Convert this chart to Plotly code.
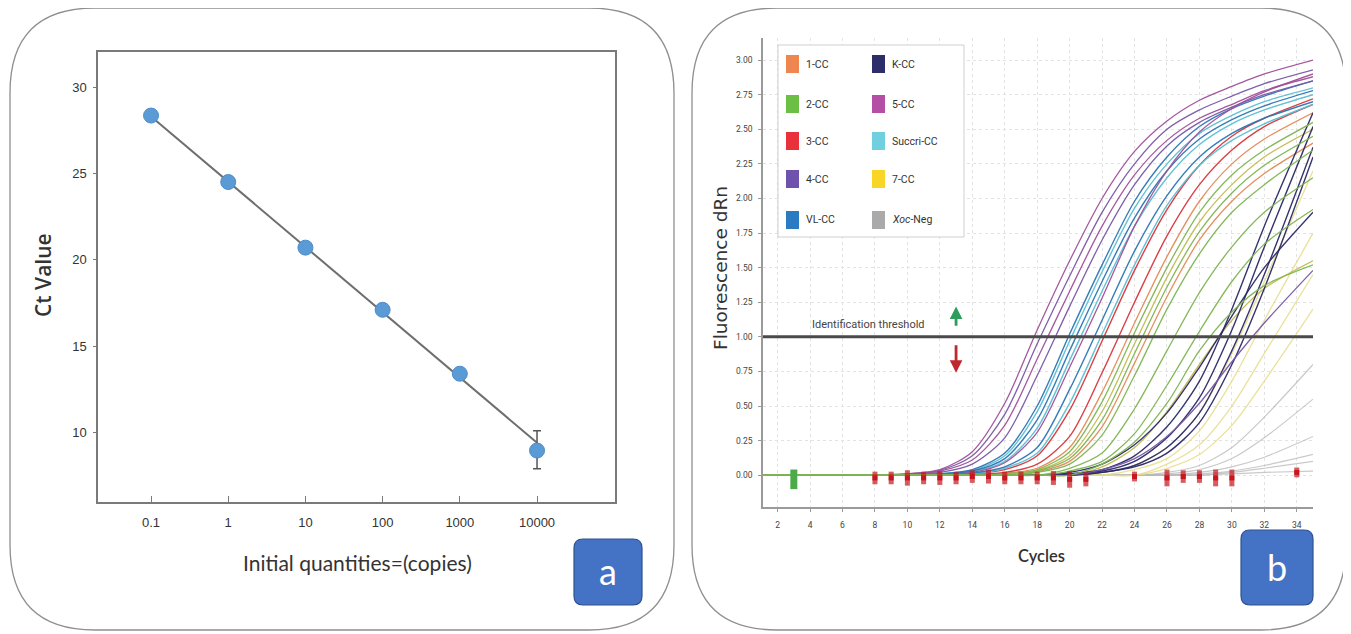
import plotly.graph_objects as go

# page body has an 8px margin: lay out in reference pixel coordinates, shifted by OFF
OFF = 8
FW, FH = 1351 - OFF, 634 - OFF

# ---------------- Panel a data ----------------
quantities = [0.1, 1, 10, 100, 1000, 10000]
quantity_labels = ["0.1", "1", "10", "100", "1000", "10000"]
ct_values = [28.35, 24.5, 20.7, 17.1, 13.4, 8.95]
ct_err_plus = [0, 0, 0, 0, 0, 1.15]
ct_err_minus = [0, 0, 0, 0, 0, 1.05]
fit_x = [0.1, 10000]
fit_y = [28.3, 9.4]
ct_ticks = [10, 15, 20, 25, 30]

# ---------------- Panel b data ----------------
cycles = [1, 6, 10, 12, 14, 16, 18, 20, 22, 24, 26, 28, 30, 32, 35]

curves_5cc = [
    [0, 0, 0.01, 0.04, 0.17, 0.52, 1.05, 1.55, 2.0, 2.34, 2.56, 2.71, 2.81, 2.9, 3.0],
    [0, 0, 0.005, 0.03, 0.11, 0.36, 0.84, 1.33, 1.8, 2.17, 2.42, 2.58, 2.68, 2.78, 2.88],
    [0, 0, 0, 0.005, 0.02, 0.09, 0.31, 0.78, 1.28, 1.8, 2.2, 2.48, 2.65, 2.77, 2.9],
]
curves_4cc = [
    [0, 0, 0.01, 0.035, 0.14, 0.44, 0.95, 1.44, 1.9, 2.25, 2.5, 2.64, 2.74, 2.83, 2.93],
    [0, 0, 0.005, 0.02, 0.08, 0.27, 0.72, 1.22, 1.7, 2.1, 2.38, 2.55, 2.66, 2.75, 2.85],
    [0, 0, 0, 0, 0, 0, 0, 0, 0.04, 0.12, 0.28, 0.52, 0.82, 1.1, 1.48],
]
curves_vlcc = [
    [0, 0, 0, 0.01, 0.04, 0.16, 0.5, 1.02, 1.52, 1.98, 2.3, 2.52, 2.65, 2.74, 2.85],
    [0, 0, 0, 0.008, 0.03, 0.12, 0.4, 0.9, 1.4, 1.86, 2.2, 2.43, 2.57, 2.67, 2.78],
    [0, 0, 0, 0, 0.015, 0.06, 0.2, 0.62, 1.12, 1.62, 2.02, 2.3, 2.47, 2.58, 2.7],
]
curves_succri = [
    [0, 0, 0, 0.01, 0.035, 0.14, 0.46, 0.97, 1.47, 1.93, 2.25, 2.47, 2.6, 2.7, 2.8],
    [0, 0, 0, 0.005, 0.025, 0.1, 0.34, 0.83, 1.33, 1.8, 2.15, 2.39, 2.54, 2.64, 2.75],
    [0, 0, 0, 0, 0.01, 0.05, 0.16, 0.52, 1.02, 1.52, 1.95, 2.24, 2.42, 2.54, 2.68],
]
curves_3cc = [
    [0, 0, 0, 0, 0.01, 0.04, 0.14, 0.47, 0.97, 1.48, 1.92, 2.24, 2.45, 2.58, 2.72],
    [0, 0, 0, 0, 0.005, 0.02, 0.08, 0.28, 0.74, 1.25, 1.73, 2.1, 2.35, 2.52, 2.68],
]
curves_1cc = [
    [0, 0, 0, 0, 0, 0.015, 0.05, 0.2, 0.6, 1.1, 1.58, 1.98, 2.25, 2.43, 2.62],
    [0, 0, 0, 0, 0, 0, 0.025, 0.1, 0.35, 0.81, 1.29, 1.7, 1.98, 2.18, 2.4],
]
curves_2cc = [
    [0, 0, 0, 0, 0, 0.01, 0.04, 0.17, 0.53, 1.03, 1.5, 1.9, 2.17, 2.35, 2.55],
    [0, 0, 0, 0, 0, 0, 0.03, 0.12, 0.4, 0.88, 1.36, 1.76, 2.04, 2.24, 2.45],
    [0, 0, 0, 0, 0, 0, 0.02, 0.08, 0.29, 0.72, 1.2, 1.6, 1.9, 2.1, 2.35],
    [0, 0, 0, 0, 0, 0, 0, 0.05, 0.16, 0.48, 0.9, 1.32, 1.65, 1.9, 2.15],
    [0, 0, 0, 0, 0, 0, 0, 0.03, 0.1, 0.3, 0.65, 1.04, 1.4, 1.67, 1.92],
    [0, 0, 0, 0, 0, 0, 0, 0, 0.08, 0.24, 0.52, 0.9, 1.18, 1.37, 1.52],
]
curves_7cc = [
    [0, 0, 0, 0, 0, 0.01, 0.035, 0.14, 0.46, 0.95, 1.43, 1.83, 2.1, 2.3, 2.5],
    [0, 0, 0, 0, 0, 0, 0, 0, 0.06, 0.2, 0.46, 0.8, 1.12, 1.35, 1.55],
]
curves_7cc_faint = [
    [0, 0, 0, 0, 0, 0, 0, 0, 0.02, 0.07, 0.2, 0.45, 0.88, 1.4, 2.2],
    [0, 0, 0, 0, 0, 0, 0, 0, 0, 0.04, 0.12, 0.32, 0.68, 1.12, 1.75],
    [0, 0, 0, 0, 0, 0, 0, 0, 0, 0, 0.08, 0.22, 0.5, 0.88, 1.45],
    [0, 0, 0, 0, 0, 0, 0, 0, 0, 0, 0.05, 0.15, 0.36, 0.68, 1.2],
]
curves_kcc = [
    [0, 0, 0, 0, 0, 0, 0, 0.01, 0.04, 0.14, 0.35, 0.68, 1.2, 1.8, 2.62],
    [0, 0, 0, 0, 0, 0, 0, 0.01, 0.03, 0.1, 0.27, 0.56, 1.05, 1.65, 2.52],
    [0, 0, 0, 0, 0, 0, 0, 0, 0.02, 0.07, 0.2, 0.45, 0.9, 1.45, 2.37],
    [0, 0, 0, 0, 0, 0, 0, 0, 0.02, 0.06, 0.16, 0.38, 0.8, 1.35, 2.3],
    [0, 0, 0, 0, 0, 0, 0, 0.02, 0.08, 0.22, 0.45, 0.78, 1.15, 1.5, 1.9],
]
curves_xoc = [
    [0, 0, 0, 0, 0, 0, 0, 0, 0, 0, 0.02, 0.07, 0.2, 0.42, 0.8],
    [0, 0, 0, 0, 0, 0, 0, 0, 0, 0, 0.01, 0.04, 0.12, 0.27, 0.55],
    [0, 0, 0, 0, 0, 0, 0, 0, 0, 0, 0, 0.02, 0.06, 0.13, 0.28],
    [0, 0, 0, 0, 0, 0, 0, 0, 0, 0, 0, 0.01, 0.03, 0.07, 0.15],
    [0, 0, 0, 0, 0, 0, 0, 0, 0, 0, 0, 0, 0.02, 0.05, 0.1],
    [0, 0, 0, 0, 0, 0, 0, 0, 0, 0, 0, 0, 0.01, 0.02, 0.03],
]

ct_mark_cycles = [8, 9, 10, 11, 12, 13, 14, 15, 16, 17, 18, 19, 20, 21, 24, 26, 27, 28, 29, 30, 34]
ct_mark_level = [-0.02, -0.02, -0.02, -0.02, -0.02, -0.02, -0.01, -0.01, -0.02, -0.02, -0.02, -0.02,
                 -0.03, -0.03, -0.01, -0.02, -0.01, -0.01, -0.02, -0.02, 0.02]
start_mark_cycle = [3]
start_mark_level = [-0.03]

threshold_value = 1.0
fluor_ticks = [0, 0.25, 0.5, 0.75, 1.0, 1.25, 1.5, 1.75, 2.0, 2.25, 2.5, 2.75, 3.0]
cycle_ticks = list(range(2, 35, 2))

legend_names = ["1-CC", "2-CC", "3-CC", "4-CC", "VL-CC", "K-CC", "5-CC", "Succri-CC", "7-CC", "<i>Xoc</i>-Neg"]

# ---------------- Styles ----------------
legend_colors = ["#ef8650", "#6cbf45", "#e8313a", "#6f52ac", "#2b7bc2",
                 "#2e2d6c", "#b54fa6", "#70d0e0", "#f8d527", "#aaaaaa"]

series_styles = [
    (curves_xoc, "#b8b8b8", 1.2, 0.75),
    (curves_7cc_faint, "#e7dc8a", 1.3, 0.85),
    (curves_7cc, "#c2bb52", 1.3, 0.95),
    (curves_1cc, "#e48a55", 1.3, 0.95),
    (curves_3cc, "#d9363c", 1.4, 0.95),
    (curves_succri, "#5bbfd3", 1.4, 0.95),
    (curves_vlcc, "#2c76b6", 1.4, 0.95),
    (curves_kcc, "#2b2a68", 1.4, 0.95),
    (curves_4cc, "#7858a6", 1.3, 0.95),
    (curves_5cc, "#a1509a", 1.3, 0.95),
    (curves_2cc, "#7fb552", 1.3, 0.95),
]

FONT_TXT = "Lato"


def px(x):
    return (x - OFF) / FW


def py(y):
    return 1 - (y - OFF) / FH


def rr_path(x0, y0, x1, y1, r):
    def P(x, y):
        return f"{px(x):.5f},{py(y):.5f}"
    return (f"M {P(x0 + r, y0)} L {P(x1 - r, y0)} Q {P(x1, y0)} {P(x1, y0 + r)} "
            f"L {P(x1, y1 - r)} Q {P(x1, y1)} {P(x1 - r, y1)} L {P(x0 + r, y1)} "
            f"Q {P(x0, y1)} {P(x0, y1 - r)} L {P(x0, y0 + r)} Q {P(x0, y0)} {P(x0 + r, y0)} Z")


def label(x, y, text, size, family=FONT_TXT, color="#333333", angle=0, xanchor="center", weight=None):
    f = dict(family=family, size=size, color=color)
    if weight:
        f["weight"] = weight
    return dict(x=px(x), y=py(y), xref="paper", yref="paper", text=text, textangle=angle,
                xanchor=xanchor, yanchor="middle", showarrow=False, font=f)


fig = go.Figure()

# ---- Panel a traces ----
fig.add_trace(go.Scatter(x=fit_x, y=fit_y, mode="lines", xaxis="x", yaxis="y",
                         line=dict(color="#6e6e6e", width=2), hoverinfo="skip"))
fig.add_trace(go.Scatter(
    x=quantities, y=ct_values, mode="markers", xaxis="x", yaxis="y",
    marker=dict(size=15, color="#5b9bd5", line=dict(color="#4a8ccc", width=1)),
    error_y=dict(type="data", symmetric=False, array=ct_err_plus, arrayminus=ct_err_minus,
                 color="#555555", thickness=1.5, width=4)))

# ---- Panel b traces ----
for group, color, width, op in series_styles:
    for ys in group:
        fig.add_trace(go.Scatter(x=cycles, y=ys, mode="lines", xaxis="x2", yaxis="y2",
                                 line=dict(color=color, width=width, shape="spline", smoothing=0.8),
                                 opacity=op, hoverinfo="skip"))

fig.add_trace(go.Scatter(x=[1.1, 35], y=[threshold_value, threshold_value], mode="lines",
                         xaxis="x2", yaxis="y2", line=dict(color="#4a4a4a", width=3)))

mark_sizes = [9, 9, 11, 9, 10, 9, 9, 10, 9, 9, 9, 10, 12, 10, 7, 12, 9, 9, 12, 12, 7]
fig.add_trace(go.Scatter(x=ct_mark_cycles, y=ct_mark_level, mode="markers", xaxis="x2", yaxis="y2",
                         marker=dict(symbol="square", size=5, color="#c8161e",
                                     line=dict(color="#c8161e", width=0))))
fig.add_trace(go.Scatter(x=ct_mark_cycles, y=ct_mark_level, mode="markers", xaxis="x2", yaxis="y2",
                         marker=dict(symbol="line-ns", size=mark_sizes,
                                     line=dict(color="#c8161e", width=5))))
fig.add_trace(go.Scatter(x=start_mark_cycle, y=start_mark_level, mode="markers", xaxis="x2", yaxis="y2",
                         marker=dict(symbol="line-ns", size=14,
                                     line=dict(color="#4caa49", width=7))))

shapes = []
annotations = []

# outer rounded panels
shapes.append(dict(type="path", xref="paper", yref="paper", path=rr_path(10, 8, 674, 630, 85),
                   line=dict(color="#8f8f8f", width=1.3), layer="below"))
shapes.append(dict(type="path", xref="paper", yref="paper", path=rr_path(692, 8, 1346, 630, 85),
                   line=dict(color="#8f8f8f", width=1.3), layer="below"))

# badges
for (x0, y0, x1, y1, letter) in [(574, 539, 642, 605, "a"), (1241, 530, 1313, 605, "b")]:
    shapes.append(dict(type="path", xref="paper", yref="paper", path=rr_path(x0, y0, x1, y1, 9),
                       fillcolor="#4472c4", line=dict(color="#2f528f", width=1.2)))
    annotations.append(label((x0 + x1) / 2, (y0 + y1) / 2 - 1, letter, 36, color="white"))

# panel a titles
annotations.append(label(43, 275, "Ct Value", 21, family="Open Sans", angle=-90, weight=600))
annotations.append(label(357, 562, "Initial quantities=(copies)", 21))

# panel b titles
annotations.append(label(720, 268, "Fluorescence dRn", 18.5, family="DejaVu Sans", angle=-90))
annotations.append(label(1041, 556, "Cycles", 16.5, weight=600))

# threshold label + arrows
annotations.append(label(868, 324, "Identification threshold", 11, family="Roboto", color="#444444"))
annotations.append(dict(x=13, y=1.22, ax=13, ay=1.07, xref="x2", yref="y2", axref="x2", ayref="y2",
                        text="", showarrow=True, arrowhead=2, arrowsize=0.9, arrowwidth=2.8, arrowcolor="#2e9d5b"))
annotations.append(dict(x=13, y=0.74, ax=13, ay=0.95, xref="x2", yref="y2", axref="x2", ayref="y2",
                        text="", showarrow=True, arrowhead=2, arrowsize=0.9, arrowwidth=2.8, arrowcolor="#c0282e"))

# legend box
shapes.append(dict(type="rect", xref="paper", yref="paper", x0=px(778), x1=px(964), y0=py(237), y1=py(45),
                   line=dict(color="#cfcfcf", width=1), fillcolor="white"))
row_y = [64, 104, 141, 179, 220]
for i, (name, col) in enumerate(zip(legend_names, legend_colors)):
    c = i // 5
    r = i % 5
    sx = 786 if c == 0 else 872
    tx = 804 if c == 0 else 890
    yc = row_y[r]
    shapes.append(dict(type="rect", xref="paper", yref="paper", x0=px(sx), x1=px(sx + 13),
                       y0=py(yc + 9), y1=py(yc - 9), fillcolor=col, line=dict(width=0)))
    annotations.append(label(tx, yc, name, 10.5, family="Roboto", xanchor="left"))

tick_font_a = dict(family="Liberation Sans", size=13, color="#333333")
tick_font_b = dict(family="Roboto", size=8.5, color="#444444")

fig.update_layout(
    width=FW, height=FH, autosize=False,
    margin=dict(l=0, r=0, t=0, b=0),
    paper_bgcolor="white", plot_bgcolor="white",
    showlegend=False,
    shapes=shapes, annotations=annotations,
    xaxis=dict(domain=[px(98), px(615)], type="log", range=[-1.687, 5.01],
               tickvals=quantities, ticktext=quantity_labels, tickfont=tick_font_a,
               showgrid=False, zeroline=False, showline=True, linecolor="#7a7a7a", linewidth=1.5,
               mirror=True, ticks="inside", ticklen=6, tickcolor="#7a7a7a", ticklabelstandoff=8,
               anchor="y"),
    yaxis=dict(domain=[py(502), py(52)], range=[5.97, 32.03], tickvals=ct_ticks, tickfont=tick_font_a,
               showgrid=False, zeroline=False, showline=True, linecolor="#7a7a7a", linewidth=1.5,
               mirror=True, ticks="outside", ticklen=3, tickcolor="#7a7a7a", ticklabelstandoff=4,
               anchor="x"),
    xaxis2=dict(domain=[px(763), px(1313)], range=[1.1, 35], tickvals=cycle_ticks, tickfont=tick_font_b,
                showgrid=True, gridcolor="#e3e3e3", griddash="dot", gridwidth=1, zeroline=False,
                showline=True, linecolor="#9a9a9a", linewidth=1.5, ticks="outside", ticklen=3,
                tickcolor="#9a9a9a", ticklabelstandoff=6, anchor="y2"),
    yaxis2=dict(domain=[py(507), py(38)], range=[-0.23, 3.16], tickvals=fluor_ticks, tickformat=".2f",
                tickfont=tick_font_b, showgrid=True, gridcolor="#e3e3e3", griddash="dot", gridwidth=1,
                zeroline=False, showline=True, linecolor="#9a9a9a", linewidth=1.5, ticks="outside",
                ticklen=3, tickcolor="#9a9a9a", ticklabelstandoff=4, anchor="x2"),
)

fig.write_html("out.html")
